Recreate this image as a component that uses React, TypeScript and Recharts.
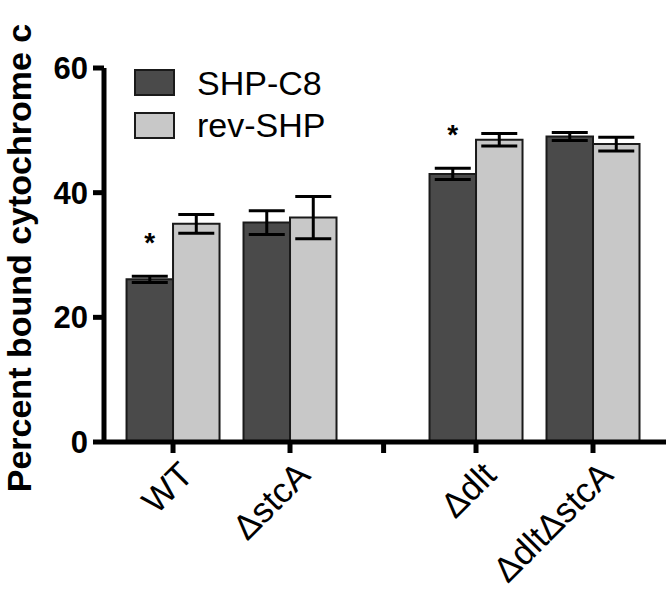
import React from 'react';
import { BarChart, Bar, XAxis, YAxis, ErrorBar, Legend, LabelList } from 'recharts';

const categories = ['WT', 'ΔstcA', '', 'Δdlt', 'ΔdltΔstcA'];
const categoryPositions = [1, 2, 2.8, 3.59, 4.59];
const shpC8 = [26.1, 35.2, null, 43.0, 49.0];
const shpC8Err = [0.5, 1.9, null, 0.9, 0.65];
const revShp = [35.0, 36.0, null, 48.5, 47.8];
const revShpErr = [1.5, 3.4, null, 1.0, 1.1];
const significant = [true, false, false, true, false];
const yTicks = [0, 20, 40, 60];

const FONT = '"Liberation Sans", Arial, sans-serif';
const DARK = '#4a4a4a';
const LIGHT = '#c8c8c8';

const data = categories
  .map((c, i) => ({
    name: c,
    pos: categoryPositions[i],
    shp: shpC8[i],
    shpErr: shpC8Err[i],
    rev: revShp[i],
    revErr: revShpErr[i],
    sig: significant[i],
  }))
  .filter((d) => d.shp != null);

const XTick = (props: any) => {
  const { x, y, payload } = props;
  const idx = categoryPositions.indexOf(payload.value);
  const label = idx >= 0 ? categories[idx] : '';
  if (!label) return null;
  return (
    <g transform={`translate(${x + 22},${y + 24})`}>
      <text transform="rotate(-45)" textAnchor="end" fontFamily={FONT} fontSize={35} fill="#000">
        {label}
      </text>
    </g>
  );
};

const TitleText = () => (
  <text
    x={31}
    y={258}
    transform="rotate(-90, 31, 258)"
    textAnchor="middle"
    fontFamily={FONT}
    fontWeight="bold"
    fontSize={34}
    fill="#000"
  >
    Percent bound cytochrome c
  </text>
);

const Star = (props: any) => {
  const { x, y, width, height, value, index } = props;
  const row = data[index];
  if (!row || !row.sig || value == null) return null;
  const pxPerUnit = height / value;
  const errTop = y - row.shpErr * pxPerUnit;
  return (
    <text x={x + width / 2} y={errTop - 24} textAnchor="middle" fontFamily={FONT} fontWeight="bold" fontSize={28} fill="#000">
      *
    </text>
  );
};

const LegendContent = (props: any) => {
  const { payload } = props;
  return (
    <svg width={300} height={80} style={{ overflow: 'visible' }}>
      {(payload || []).map((p: any, i: number) => (
        <g key={i}>
          <rect x={1} y={3 + i * 43} width={39} height={25} fill={p.color} stroke="#1a1a1a" strokeWidth={2} />
          <text x={63} y={28 + i * 42} fontFamily={FONT} fontSize={34} fill="#000">
            {p.value}
          </text>
        </g>
      ))}
    </svg>
  );
};

export default function App() {
  return (
    <div style={{ position: 'absolute', left: 0, top: 0, width: 666, height: 595, background: '#fff' }}>
      <BarChart
        width={666}
        height={595}
        data={data}
        margin={{ top: 68, right: 0, bottom: 0, left: 0 }}
        barGap={0}
      >
        <XAxis
          type="number"
          dataKey="pos"
          domain={[0.41, 5.214]}
          ticks={categoryPositions}
          allowDataOverflow
          interval={0}
          height={153}
          tickSize={11}
          tickMargin={0}
          axisLine={{ stroke: '#000', strokeWidth: 5 }}
          tickLine={{ stroke: '#000', strokeWidth: 5 }}
          tick={<XTick />}
        />
        <YAxis
          type="number"
          domain={[0, 60]}
          ticks={yTicks}
          interval={0}
          width={104}
          tickSize={11}
          tickMargin={5}
          axisLine={{ stroke: '#000', strokeWidth: 5 }}
          tickLine={{ stroke: '#000', strokeWidth: 5 }}
          tick={{ fontFamily: FONT, fontSize: 31, fontWeight: 'bold', fill: '#000' }}
          label={<TitleText />}
        />
        <Legend
          layout="vertical"
          align="center"
          verticalAlign="middle"
          wrapperStyle={{ left: 134, top: 67, width: 300, height: 80 }}
          content={<LegendContent />}
        />
        <Bar dataKey="shp" name="SHP-C8" fill={DARK} stroke="#1a1a1a" strokeWidth={2} barSize={46.5} isAnimationActive={false}>
          <ErrorBar dataKey="shpErr" width={18} stroke="#000" strokeWidth={3} direction="y" />
          <LabelList dataKey="shp" content={<Star />} />
        </Bar>
        <Bar dataKey="rev" name="rev-SHP" fill={LIGHT} stroke="#1a1a1a" strokeWidth={2} barSize={46.5} isAnimationActive={false}>
          <ErrorBar dataKey="revErr" width={18} stroke="#000" strokeWidth={3} direction="y" />
        </Bar>
      </BarChart>
    </div>
  );
}
